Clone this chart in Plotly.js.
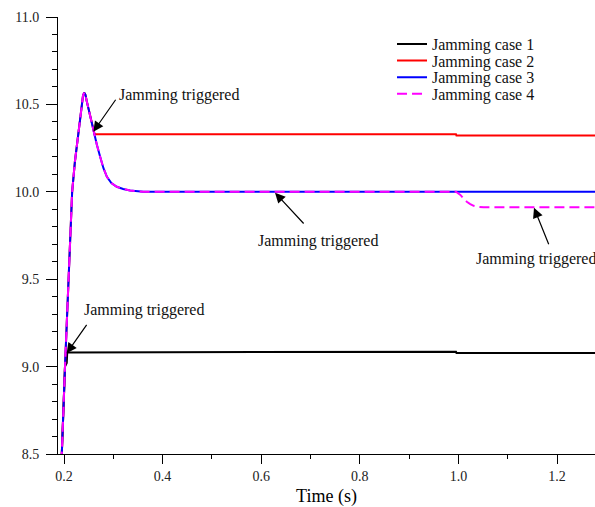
<!DOCTYPE html>
<html>
<head>
<meta charset="utf-8">
<script src="https://cdn.plot.ly/plotly-3.0.1.min.js"></script>
<style>html,body{margin:0;padding:0;background:#fff;}#chart{width:595px;height:507px;}</style>
</head>
<body>
<div id="chart"></div>
<script>
// ---- data ----
var seriesNames = ["Jamming case 1", "Jamming case 2", "Jamming case 3", "Jamming case 4"];

var case1T = [0.186, 0.1955, 0.202, 0.2055, 0.2065, 0.568, 0.569, 0.995, 0.996, 1.28];
var case1V = [8.2, 8.5, 9.0, 9.02, 9.081, 9.081, 9.085, 9.085, 9.078, 9.078];

var case2T = [0.186, 0.1955, 0.202, 0.209, 0.2165, 0.222, 0.2275, 0.2313, 0.236, 0.2385, 0.241, 0.2435, 0.246, 0.253, 0.2597, 0.262, 0.995, 0.996, 1.28];
var case2V = [8.2, 8.5, 9.0, 9.5, 10.0, 10.17, 10.30, 10.354, 10.497, 10.55, 10.567, 10.555, 10.52, 10.43, 10.354, 10.329, 10.329, 10.322, 10.322];

var case3T = [0.186, 0.1955, 0.202, 0.209, 0.2165, 0.222, 0.2275, 0.2313, 0.236, 0.2385, 0.241, 0.2435, 0.246, 0.253, 0.2597, 0.2665, 0.2733, 0.28, 0.287, 0.296, 0.307, 0.32, 0.334, 0.361, 1.28];
var case3V = [8.2, 8.5, 9.0, 9.5, 10.0, 10.17, 10.30, 10.354, 10.497, 10.55, 10.567, 10.555, 10.52, 10.43, 10.354, 10.27, 10.20, 10.135, 10.086, 10.05, 10.029, 10.016, 10.008, 10.0, 10.0];

var case4T = [0.186, 0.1955, 0.202, 0.209, 0.2165, 0.222, 0.2275, 0.2313, 0.236, 0.2385, 0.241, 0.2435, 0.246, 0.253, 0.2597, 0.2665, 0.2733, 0.28, 0.287, 0.296, 0.307, 0.32, 0.334, 0.361, 0.995, 1.004, 1.011, 1.017, 1.024, 1.031, 1.04, 1.051, 1.28];
var case4V = [8.2, 8.5, 9.0, 9.5, 10.0, 10.17, 10.30, 10.354, 10.497, 10.55, 10.567, 10.555, 10.52, 10.43, 10.354, 10.27, 10.20, 10.135, 10.086, 10.05, 10.029, 10.016, 10.008, 10.0, 10.0, 9.982, 9.96, 9.943, 9.93, 9.92, 9.914, 9.911, 9.911];

var xTickVals = [0.2, 0.4, 0.6, 0.8, 1.0, 1.2];
var xTickText = ["0.2", "0.4", "0.6", "0.8", "1.0", "1.2"];
var yTickVals = [8.5, 9.0, 9.5, 10.0, 10.5, 11.0];
var yTickText = ["8.5", "9.0", "9.5", "10.0", "10.5", "11.0"];

var annText = "Jamming triggered";
var tipT = [0.2594, 0.628, 1.1533, 0.2054];
var tipV = [10.344, 9.995, 9.909, 9.076];
var labT = [0.3069, 0.7152, 1.0316, 0.2371];
var labV = [10.554, 9.720, 9.616, 9.324];

// ---- drawing ----
var FONT = "Liberation Serif";
var colors = ["#000000", "#ff0000", "#0000ff", "#ff00ff"];

var traces = [
  {x: case1T, y: case1V, name: seriesNames[0], legend: "legend", line: {color: colors[0], width: 2}},
  {x: case2T, y: case2V, name: seriesNames[1], legend: "legend2", line: {color: colors[1], width: 2}},
  {x: case3T, y: case3V, name: seriesNames[2], legend: "legend3", line: {color: colors[2], width: 2}},
  {x: case4T, y: case4V, name: seriesNames[3], legend: "legend4", line: {color: colors[3], width: 2, dash: "10px,5px"}}
].map(function (t) { t.type = "scatter"; t.mode = "lines"; t.hoverinfo = "skip"; return t; });

function leg(yc) {
  return {x: 0.622, xanchor: "left", y: yc, yanchor: "middle", bgcolor: "rgba(0,0,0,0)",
          borderwidth: 0, font: {family: FONT, size: 16, color: "#111"}, itemwidth: 30};
}

var annotations = [];
for (var i = 0; i < tipT.length; i++) {
  annotations.push({x: labT[i], y: labV[i], xref: "x", yref: "y", text: annText, showarrow: false,
    xanchor: i === 1 ? "center" : "left", yanchor: "middle",
    font: {family: FONT, size: 16, color: "#111"}});
}
var arrowOff = [[23.4, -33.4], [30, 32.3], [15.3, 38], [21, -30]];
for (var j = 0; j < tipT.length; j++) {
  annotations.push({x: tipT[j], y: tipV[j], xref: "x", yref: "y", text: "", showarrow: true,
    ax: arrowOff[j][0], ay: arrowOff[j][1], arrowhead: 2, arrowsize: 1.7, arrowwidth: 1.2,
    arrowcolor: "#000"});
}

var layout = {
  width: 595, height: 507,
  margin: {l: 58, r: 0, t: 17, b: 53, pad: 0},
  paper_bgcolor: "#fff", plot_bgcolor: "#fff",
  font: {family: FONT, size: 14, color: "#222"},
  showlegend: true,
  legend: leg(0.938), legend2: leg(0.900), legend3: leg(0.862), legend4: leg(0.824),
  xaxis: {
    range: [0.1878, 1.277], showgrid: false, zeroline: false, showline: true,
    linecolor: "#000", linewidth: 1, ticks: "outside", ticklen: 9, tickwidth: 1, tickcolor: "#000",
    tickvals: xTickVals, ticktext: xTickText, tickfont: {family: FONT, size: 14, color: "#222"},
    minor: {dtick: 0.1, tick0: 0.1, ticks: "outside", ticklen: 4, tickcolor: "#000", tickwidth: 1, showgrid: false},
    title: {text: "Time (s)", font: {family: FONT, size: 18, color: "#000"}, standoff: 6},
    automargin: false
  },
  yaxis: {
    range: [8.5, 11.0], showgrid: false, zeroline: false, showline: true,
    linecolor: "#000", linewidth: 1, ticks: "outside", ticklen: 11, tickwidth: 1, tickcolor: "#000",
    tickvals: yTickVals, ticktext: yTickText, tickfont: {family: FONT, size: 14, color: "#222"},
    minor: {dtick: 0.1, tick0: 0, ticks: "outside", ticklen: 5, tickcolor: "#000", tickwidth: 1, showgrid: false},
    ticklabelstandoff: 4,
    automargin: false
  },
  annotations: annotations
};

Plotly.newPlot("chart", traces, layout, {staticPlot: true, displayModeBar: false});
</script>
</body>
</html>
